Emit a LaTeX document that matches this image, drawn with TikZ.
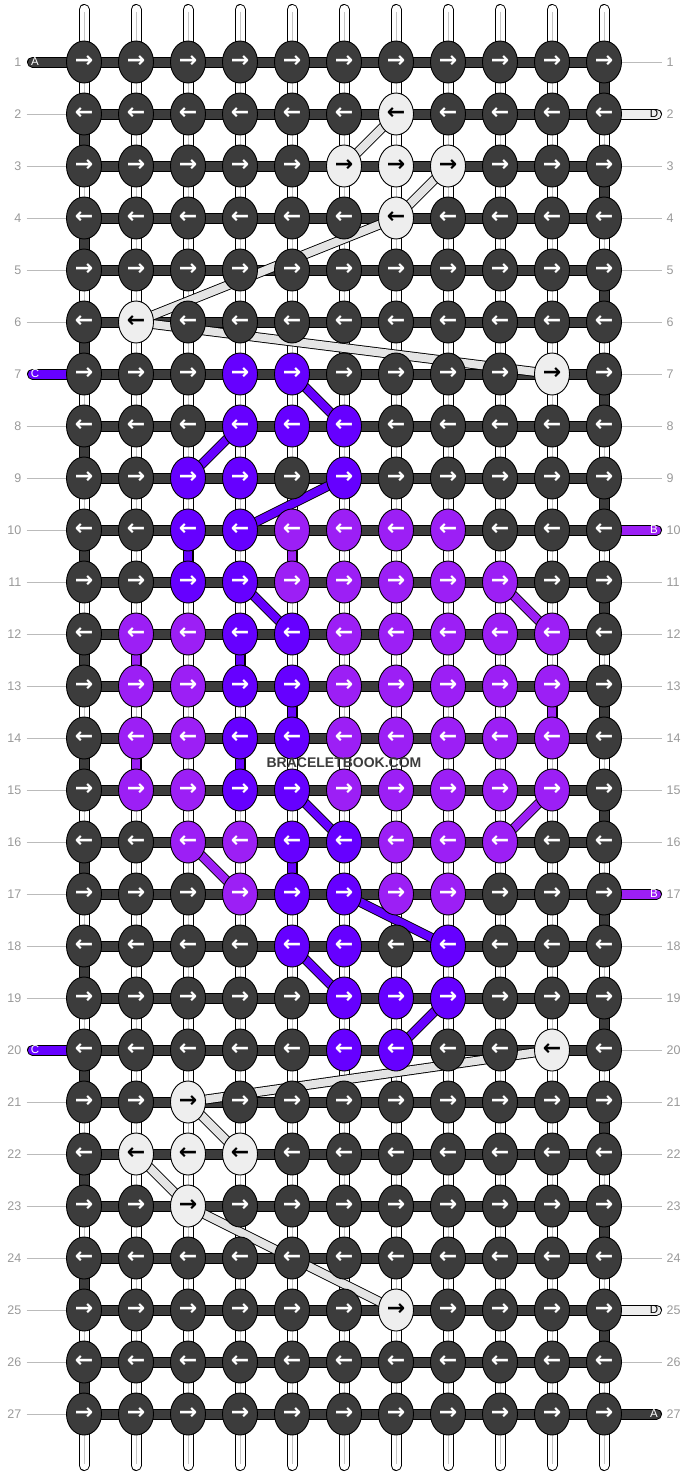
\documentclass[tikz,border=0pt]{standalone}
\usepackage{fontspec}
\setmainfont{Liberation Sans}
\newfontfamily\arrowfont{DejaVu Sans}
\usetikzlibrary{shapes.geometric}
\definecolor{kdark}{HTML}{3C3C3C}
\definecolor{kwhite}{HTML}{EEEEEE}
\definecolor{kwstr}{HTML}{E4E4E4}
\definecolor{kviolet}{HTML}{6600FF}
\definecolor{kpurple}{HTML}{9C1FF5}
\definecolor{lblgray}{HTML}{999999}
\definecolor{guidegray}{HTML}{BBBBBB}
\definecolor{basegray}{HTML}{C4C4C4}
\def\setrow#1#2{\foreach \cc/\vv in {#2}{\expandafter\xdef\csname kc-#1-\cc\endcsname{\vv}}}
\setrow{2}{7/W}
\setrow{3}{6/W,7/W,8/W}
\setrow{4}{7/W}
\setrow{6}{2/W}
\setrow{7}{4/V,5/V,10/W}
\setrow{8}{4/V,5/V,6/V}
\setrow{9}{3/V,4/V,6/V}
\setrow{10}{3/V,4/V,5/P,6/P,7/P,8/P}
\setrow{11}{3/V,4/V,5/P,6/P,7/P,8/P,9/P}
\setrow{12}{2/P,3/P,4/V,5/V,6/P,7/P,8/P,9/P,10/P}
\setrow{13}{2/P,3/P,4/V,5/V,6/P,7/P,8/P,9/P,10/P}
\setrow{14}{2/P,3/P,4/V,5/V,6/P,7/P,8/P,9/P,10/P}
\setrow{15}{2/P,3/P,4/V,5/V,6/P,7/P,8/P,9/P,10/P}
\setrow{16}{3/P,4/P,5/V,6/V,7/P,8/P,9/P}
\setrow{17}{4/P,5/V,6/V,7/P,8/P}
\setrow{18}{5/V,6/V,8/V}
\setrow{19}{6/V,7/V,8/V}
\setrow{20}{6/V,7/V,10/W}
\setrow{21}{3/W}
\setrow{22}{2/W,3/W,4/W}
\setrow{23}{3/W}
\setrow{25}{7/W}
\def\setcolK{\def\kfill{kdark}\def\ktext{white}}
\def\setcolW{\def\kfill{kwhite}\def\ktext{black}}
\def\setcolV{\def\kfill{kviolet}\def\ktext{white}}
\def\setcolP{\def\kfill{kpurple}\def\ktext{white}}
\expandafter\def\csname lx-1\endcsname{}
\expandafter\def\csname lx-7\endcsname{}
\expandafter\def\csname lx-20\endcsname{}
\expandafter\def\csname rx-2\endcsname{}
\expandafter\def\csname rx-10\endcsname{}
\expandafter\def\csname rx-17\endcsname{}
\expandafter\def\csname rx-25\endcsname{}
\expandafter\def\csname rx-27\endcsname{}
\tikzset{
  knot/.style={ellipse, draw=black, line width=0.9pt, minimum width=35pt, minimum height=42pt, inner sep=0pt, font=\arrowfont\bfseries\fontsize{22}{22}\selectfont},
  basestrand/.style={line width=1pt, draw=black, double=white, double distance=9pt, line cap=round},
  basemid/.style={line width=0.8pt, draw=basegray, shorten <=2pt, shorten >=2pt},
  seg/.style={line width=1pt, draw=black, double distance=9pt},
  strand/.style={line width=0.9pt, draw=black, double distance=8pt},
  lbl/.style={font=\fontsize{12.5}{14}\selectfont, text=lblgray, inner sep=0pt},
  guide/.style={draw=guidegray, line width=0.8pt},
  endlbl/.style={font=\fontsize{11.5}{11.5}\selectfont, inner sep=0pt},
}
\begin{document}
\begin{tikzpicture}[x=1pt,y=-1pt]
\useasboundingbox (0,0) rectangle (688,1476);
% grid coordinates
\foreach \r in {1,...,27}{\foreach \c in {1,...,11}{\coordinate (p-\r-\c) at ({32+52*\c},{10+52*\r});}}
% base strands
\foreach \c in {1,...,11}{
  \coordinate (top-\c) at ({32+52*\c},9.5);
  \coordinate (bot-\c) at ({32+52*\c},1465.5);
  \draw[basestrand] (top-\c) -- (bot-\c);
  \draw[basemid] (top-\c) -- (bot-\c);
}
% edge turns of the dark string
\foreach \r in {1,...,26}{
  \pgfmathtruncatemacro\rn{\r+1}
  \ifodd\r \def\cc{11}\else\def\cc{1}\fi
  \draw[seg, double=kdark] (p-\r-\cc) -- (p-\rn-\cc);
}
% horizontal rows
\foreach \r in {1,...,27}{\draw[seg, double=kdark] (p-\r-1) -- (p-\r-11);}
% entering / leaving strings
\foreach \r/\col/\tcol/\txt in {1/kdark/white/A,7/kviolet/white/C,20/kviolet/white/C}{
  \coordinate (el-\r) at (32.5,{10+52*\r});
  \draw[seg, double=\col, line cap=round] (el-\r) -- (p-\r-1);
  \node[endlbl, text=\tcol] (tl-\r) at (35,{10+52*\r}) {\txt};
}
\foreach \r/\col/\tcol/\txt in {2/kwhite/black/D,25/kwhite/black/D,10/kpurple/white/B,17/kpurple/white/B,27/kdark/white/A}{
  \coordinate (er-\r) at (656.5,{10+52*\r});
  \draw[seg, double=\col, line cap=round] (p-\r-11) -- (er-\r);
  \node[endlbl, text=\tcol] (tr-\r) at (654,{10+52*\r}) {\txt};
}
% white string D
\foreach \a/\b in {2-7/3-6, 3-8/4-7, 4-7/6-2, 6-2/7-10, 20-10/21-3, 21-3/22-4, 22-2/23-3, 23-3/25-7}{
  \draw[strand, double=kwstr] (p-\a) -- (p-\b);
}
% violet string C
\foreach \a/\b in {7-5/8-6, 8-4/9-3, 9-6/10-4, 10-3/11-3, 11-4/12-5, 12-4/13-4, 13-5/14-5, 14-4/15-4, 15-5/16-6, 16-5/17-5, 17-6/18-8, 18-5/19-6, 19-8/20-7}{
  \draw[strand, double=kviolet] (p-\a) -- (p-\b);
}
% purple string B
\foreach \a/\b in {10-5/11-5, 11-9/12-10, 12-2/13-2, 13-10/14-10, 14-2/15-2, 15-10/16-9, 16-3/17-4}{
  \draw[strand, double=kpurple] (p-\a) -- (p-\b);
}
% knots
\foreach \r in {1,...,27}{
  \foreach \c in {1,...,11}{
    \ifcsname kc-\r-\c\endcsname\edef\kcol{\csname kc-\r-\c\endcsname}\else\def\kcol{K}\fi
    \csname setcol\kcol\endcsname
    \node[knot, fill=\kfill, text=\ktext] (k-\r-\c) at (p-\r-\c) {\ifodd\r →\else ←\fi};
  }
}
% row numbers
\foreach \r in {1,...,27}{
  \node[lbl, anchor=east] (ln-\r) at (21.5,{10+52*\r}) {\r};
  \node[lbl, anchor=west] (rn-\r) at (666.5,{10+52*\r}) {\r};
  \ifcsname lx-\r\endcsname\else\draw[guide] ([xshift=5pt]ln-\r.east) -- (k-\r-1.west);\fi
  \ifcsname rx-\r\endcsname\else\draw[guide] (k-\r-11.east) -- ([xshift=-4.5pt]rn-\r.west);\fi
}
% watermark
\node[font=\bfseries\fontsize{14}{14}\selectfont, text=kdark, inner sep=0pt] (wm) at (344,763) {BRACELETBOOK.COM};
\end{tikzpicture}
\end{document}
